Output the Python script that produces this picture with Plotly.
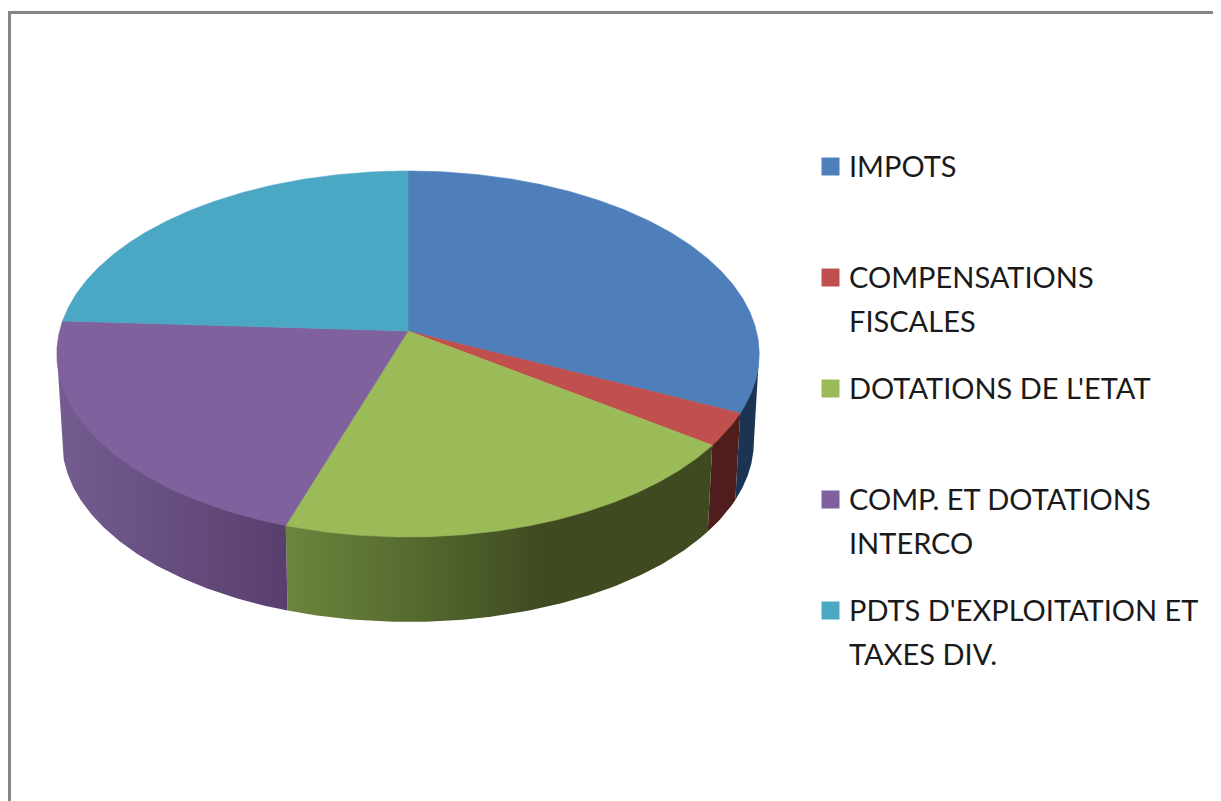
import numpy as np
import plotly.graph_objects as go

categories = ["IMPOTS", "COMPENSATIONS FISCALES", "DOTATIONS DE L'ETAT",
              "COMP. ET DOTATIONS INTERCO", "PDTS D'EXPLOITATION ET TAXES DIV."]
shares = [32.1, 2.9, 20.0, 20.9, 24.1]
legend_lines = [["IMPOTS"], ["COMPENSATIONS", "FISCALES"], ["DOTATIONS DE L'ETAT"],
                ["COMP. ET DOTATIONS", "INTERCO"], ["PDTS D'EXPLOITATION ET", "TAXES DIV."]]
top_colors = ["#4E7FBB", "#C0504D", "#9BBB59", "#7F619E", "#4BA8C4"]
side_scales = [
    [[0, "#1C3454"], [1, "#1C3454"]],
    [[0, "#4F1E1C"], [1, "#4F1E1C"]],
    [[0, "#6B853C"], [0.3, "#566A30"], [0.6, "#3F4A20"], [1, "#3F4A20"]],
    [[0, "#745C91"], [1, "#593F6E"]],
    [[0, "#2B6478"], [1, "#2B6478"]],
]

# view of the disc, in pixels of the 1221x801 page
CX, CY, A, B, K = 408.0, 331.0, 348.4, 180.1, 0.1257
SHRINK, DEPTH, TUCK = 0.985, 88.0, 2.0
FONT = "Lato, Carlito, sans-serif"
TEXT_SIZE = 29
PAGE_MARGIN = 8  # the page body's default margin


def rim(theta_deg):
    t = np.radians(theta_deg)
    u, v = np.sin(t), -np.cos(t)
    w = 1 - K * v
    return CX + A * u / w, CY + B * v / w


edges = np.concatenate([[0], np.cumsum(shares)]) / sum(shares) * 360
grid = np.linspace(0, 360, 3601)
gx, _ = rim(grid)
theta_right, theta_left = grid[np.argmax(gx)], grid[np.argmin(gx)]

fig = go.Figure()

# sides (their upper edge is tucked under the top faces so that no seam shows)
for i, name in enumerate(categories):
    a, b = max(edges[i], theta_right), min(edges[i + 1], theta_left)
    if b <= a:
        continue
    th = np.linspace(a, b, 120)
    x, y = rim(th)
    bx = CX + SHRINK * (x - CX)
    by = CY + SHRINK * (y - CY) + DEPTH
    fig.add_trace(go.Scatter(
        x=np.concatenate([x, bx[::-1], x[:1]]),
        y=np.concatenate([y - TUCK, by[::-1], y[:1] - TUCK]),
        mode="lines", line=dict(width=0), fill="toself",
        fillgradient=dict(type="horizontal", colorscale=side_scales[i]),
        hoverinfo="skip", showlegend=False))

# top faces
for i, name in enumerate(categories):
    th = np.linspace(edges[i], edges[i + 1], 240)
    x, y = rim(th)
    fig.add_trace(go.Scatter(
        x=np.concatenate([[CX], x, [CX]]),
        y=np.concatenate([[CY], y, [CY]]),
        mode="lines", line=dict(width=0.6, color=top_colors[i]), fill="toself",
        fillcolor=top_colors[i], name=name, text=f"{shares[i]}%",
        hoverinfo="name+text", showlegend=False))

# legend
LEG_X, TXT_X, LEG_Y0, LEG_STEP, LINE_STEP = 830.5, 846.5, 165.5, 111, 44
for i, lines in enumerate(legend_lines):
    ly = LEG_Y0 + i * LEG_STEP
    fig.add_trace(go.Scatter(
        x=[LEG_X], y=[ly + 1], mode="markers",
        marker=dict(symbol="square", size=18, color=top_colors[i]),
        hoverinfo="skip", showlegend=False))
    for j, line in enumerate(lines):
        fig.add_annotation(x=TXT_X, y=ly + j * LINE_STEP, text=line, showarrow=False,
                           xanchor="left", yanchor="middle", xshift=0,
                           font=dict(family=FONT, size=TEXT_SIZE, color="#1a1a1a"))

# frame
fig.add_shape(type="line", x0=9.5, x1=9.5, y0=11, y1=801, line=dict(color="#868686", width=3))
fig.add_shape(type="line", x0=8, x1=1221, y0=12.5, y1=12.5, line=dict(color="#868686", width=3))

fig.update_layout(
    width=1221 - PAGE_MARGIN, height=801 - PAGE_MARGIN, margin=dict(l=0, r=0, t=0, b=0),
    paper_bgcolor="white", plot_bgcolor="white", showlegend=False,
    xaxis=dict(range=[PAGE_MARGIN, 1221], visible=False, fixedrange=True),
    yaxis=dict(range=[801, PAGE_MARGIN], visible=False, fixedrange=True),
)
fig.write_html("out.html", config=dict(displayModeBar=False))
